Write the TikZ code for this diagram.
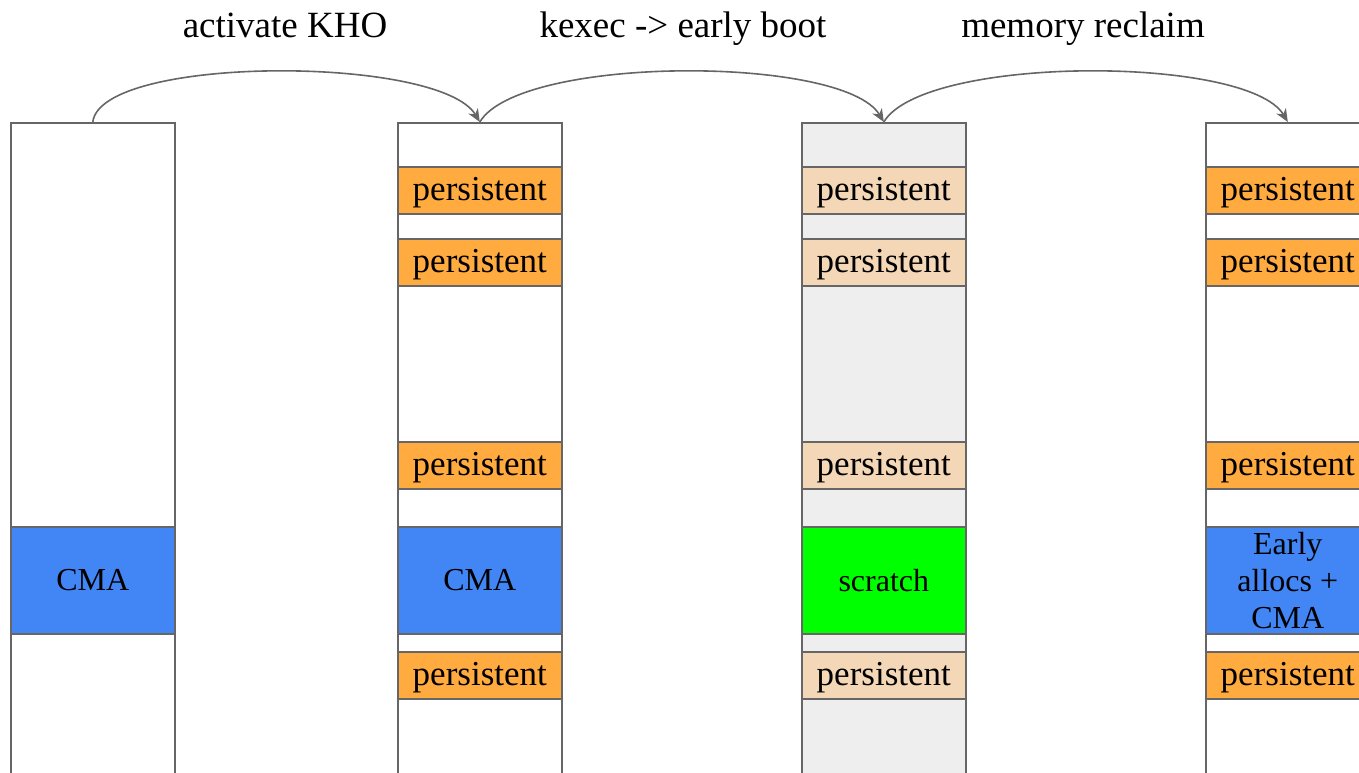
\documentclass[tikz,border=0pt]{standalone}
\usepackage{fontspec}
\setmainfont{Liberation Serif}
\usetikzlibrary{arrows.meta}
\definecolor{edge}{HTML}{666666}
\definecolor{keep}{HTML}{FFAB40}
\definecolor{keepold}{HTML}{F4D7B6}
\definecolor{cma}{HTML}{4285F4}
\definecolor{scr}{HTML}{00FF00}
\definecolor{oldmem}{HTML}{EEEEEE}
\tikzset{
  memcol/.style={draw=edge, line width=1.6pt, anchor=north west,
    minimum width=164pt, minimum height=700pt, inner sep=0pt},
  blk/.style={draw=edge, line width=1.6pt, anchor=north west,
    minimum width=164pt, minimum height=47pt, inner sep=0pt,
    font=\fontsize{35}{37}\selectfont},
  tall/.style={blk, minimum height=107pt},
  pers/.style={blk, fill=keep, text height=27pt, text depth=6pt},
  persold/.style={blk, fill=keepold, text height=27pt, text depth=6pt},
  title/.style={font=\fontsize{37}{40}\selectfont, anchor=base},
  arr/.style={draw=edge, line width=1.6pt,
    -{Stealth[length=13pt,width=11pt,inset=4pt]}},
}
\begin{document}
\begin{tikzpicture}[x=1pt,y=-1pt]
\useasboundingbox (0,0) rectangle (1359,773);
\clip (0,0) rectangle (1359,773);

% memory columns
\node[memcol] (c1) at (10,122) {};
\node[memcol] (c2) at (397,122) {};
\node[memcol, fill=oldmem] (c3) at (801,122) {};
\node[memcol] (c4) at (1205,122) {};

% column 1: before KHO
\node[tall, fill=cma, font=\fontsize{32}{37}\selectfont] (c1cma) at (10,526) {CMA};

% column 2: KHO active
\node[pers] (c2p1) at (397,166) {persistent};
\node[pers] (c2p2) at (397,238) {persistent};
\node[pers] (c2p3) at (397,441) {persistent};
\node[tall, fill=cma, font=\fontsize{32}{37}\selectfont] (c2cma) at (397,526) {CMA};
\node[pers] (c2p4) at (397,651) {persistent};

% column 3: early boot of the new kernel
\node[persold] (c3p1) at (801,166) {persistent};
\node[persold] (c3p2) at (801,238) {persistent};
\node[persold] (c3p3) at (801,441) {persistent};
\node[tall, fill=scr, font=\fontsize{32}{37}\selectfont] (c3scr) at (801,526) {scratch};
\node[persold] (c3p4) at (801,651) {persistent};

% column 4: after reclaim
\node[pers] (c4p1) at (1205,166) {persistent};
\node[pers] (c4p2) at (1205,238) {persistent};
\node[pers] (c4p3) at (1205,441) {persistent};
\node[tall, fill=cma, align=center, font=\fontsize{32}{37}\selectfont] (c4cma) at (1205,526) {Early\\allocs +\\CMA};
\node[pers] (c4p4) at (1205,651) {persistent};

% transitions
\draw[arr] (c1.north) .. controls +(8,-67) and +(-40,-67) .. (c2.north);
\draw[arr] (c2.north) .. controls +(40,-67) and +(-40,-67) .. (c3.north);
\draw[arr] (c3.north) .. controls +(40,-67) and +(-40,-67) .. (c4.north);

% transition labels
\node[title] (t1) at (285,38) {activate KHO};
\node[title] (t2) at (683,38) {kexec -> early boot};
\node[title] (t3) at (1083,38) {memory reclaim};
\end{tikzpicture}
\end{document}
